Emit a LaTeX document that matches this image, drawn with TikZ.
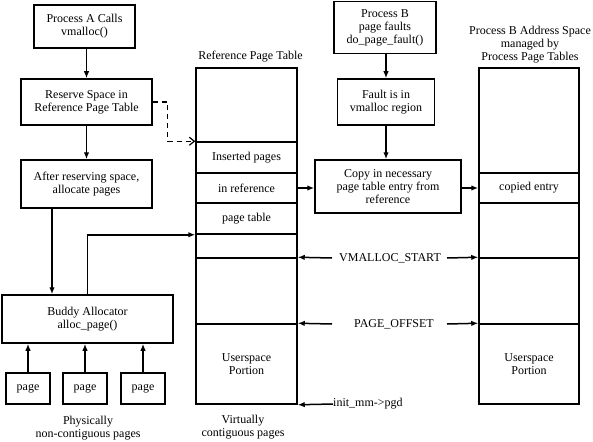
\documentclass[tikz,border=0pt]{standalone}
\usepackage{fontspec}
\setmainfont{Liberation Serif}
\usetikzlibrary{arrows.meta}
\begin{document}
\begin{tikzpicture}[x=1pt,y=-1pt,
  every node/.style={font=\fontsize{12}{13}\selectfont, align=center, inner sep=0pt},
  box/.style={draw, line width=1.5pt},
  arr/.style={line width=1.5pt, -{Latex[length=7pt,width=5.5pt]}},
  dasharr/.style={line width=1.2pt, dash pattern=on 5pt off 4pt, -{Straight Barb[length=5pt,width=8pt]}}
]
\useasboundingbox (0,0) rectangle (593,441);

% left flow
\node[box, minimum width=101pt, minimum height=43pt] (pa) at (84.5,26.5) {Process A Calls\\vmalloc()};
\node[box, minimum width=131pt, minimum height=46pt] (rs) at (86.5,102) {Reserve Space in\\Reference Page Table};
\node[box, minimum width=131pt, minimum height=48pt] (ar) at (86.5,184) {After reserving space,\\allocate pages};
\node[box, minimum width=171pt, minimum height=48pt] (ba) at (87.5,319) {Buddy Allocator\\alloc\_page()};
\node[box, minimum width=44pt, minimum height=31pt] (p1) at (28,388.5) {page};
\node[box, minimum width=44pt, minimum height=31pt] (p2) at (85,388.5) {page};
\node[box, minimum width=44pt, minimum height=31pt] (p3) at (143,388.5) {page};
\node (phys) at (88,428) {Physically\\non-contiguous pages};

% reference page table column
\node[box, minimum width=101pt, minimum height=74pt] (c0) at (246.5,105) {};
\node[box, minimum width=101pt, minimum height=31pt] (c1) at (246.5,157.5) {Inserted pages};
\node[box, minimum width=101pt, minimum height=30pt] (c2) at (246.5,188) {in reference};
\node[box, minimum width=101pt, minimum height=31pt] (c3) at (246.5,218.5) {page table};
\node[box, minimum width=101pt, minimum height=24pt] (c4) at (246.5,246) {};
\node[box, minimum width=101pt, minimum height=66pt] (c5) at (246.5,291) {};
\node[box, minimum width=101pt, minimum height=80pt] (c6) at (246.5,364) {Userspace\\Portion};
\node (rptl) at (250.5,57) {Reference Page Table};
\node (virt) at (243,427) {Virtually\\contiguous pages};

% process B flow
\node[box, minimum width=102pt, minimum height=52pt] (pb) at (385,27.5) {Process B\\page faults\\do\_page\_fault()};
\node[box, minimum width=97pt, minimum height=46pt] (fv) at (386,102) {Fault is in\\vmalloc region};
\node[box, minimum width=146pt, minimum height=53pt] (cp) at (388,186.5) {Copy in necessary\\page table entry from\\reference};

% process B address space column
\node[box, minimum width=100pt, minimum height=105pt] (r0) at (529,120.5) {};
\node[box, minimum width=100pt, minimum height=30pt] (r1) at (529,188) {copied entry};
\node[box, minimum width=100pt, minimum height=55pt] (r2) at (529,230.5) {};
\node[box, minimum width=100pt, minimum height=66pt] (r3) at (529,291) {};
\node[box, minimum width=100pt, minimum height=80pt] (r4) at (529,364) {Userspace\\Portion};
\node (pbl) at (530,45) {Process B Address Space\\managed by\\Process Page Tables};

% boundary labels
\node (vm) at (390,258) {VMALLOC\_START};
\coordinate (vml) at (332,258);
\coordinate (vmr) at (447,258);
\node (po) at (394,324) {PAGE\_OFFSET};
\coordinate (pol) at (332,324);
\coordinate (por) at (447,324);
\node[anchor=west] (im) at (333,404) {init\_mm->pgd};

% connectors
\draw[arr] (rs.north |- pa.south) -- (rs.north);
\draw[arr] (rs.south) -- (ar.north);
\draw[arr] ([xshift=-34.5pt]ar.south) -- ([xshift=-34.5pt]ar.south |- ba.north);
\draw[arr] (ba.north) |- (c3.south west);
\draw[arr] (p1.north) -- (p1.north |- ba.south);
\draw[arr] (p2.north) -- (p2.north |- ba.south);
\draw[arr] (p3.north) -- (p3.north |- ba.south);
\draw[dasharr] (rs.east) -- ++(15,0) |- (c1.north west);

\draw[arr] (fv.north |- pb.south) -- (fv.north);
\draw[arr] (fv.south) -- (fv.south |- cp.north);
\draw[arr] (c2.east) -- (c2.east -| cp.west);
\draw[arr] (cp.east |- r1.west) -- (r1.west);

\draw[arr] (vml) -- (c5.north east);
\draw[arr] (vmr) -- (r3.north west);
\draw[arr] (pol) -- (c6.north east);
\draw[arr] (por) -- (r4.north west);
\draw[arr] (im.west) -- (c6.south east);
\end{tikzpicture}
\end{document}
